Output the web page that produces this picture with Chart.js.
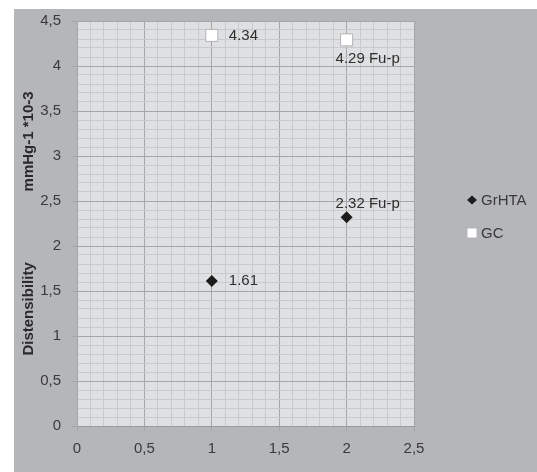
<!DOCTYPE html>
<html>
<head>
<meta charset="utf-8">
<script src="https://cdn.jsdelivr.net/npm/chart.js@4/dist/chart.umd.min.js"></script>
<style>
  html, body { margin: 0; padding: 0; background: #ffffff; }
  #frame { position: absolute; left: 14px; top: 9px; width: 523px; height: 463px; background: #b5b6b9; }
  canvas { display: block; }
</style>
</head>
<body>
<div id="frame"><canvas id="chart" width="523" height="463"></canvas></div>
<script>
// Distensibility (mmHg-1 *10-3) per group
const groupX = [1, 2];
const grHTA = [1.61, 2.32];
const gc = [4.34, 4.29];
const pointSuffix = ['', ' Fu-p'];
const seriesNames = ['GrHTA', 'GC'];
const xTickLabels = ['0', '0,5', '1', '1,5', '2', '2,5'];
const yTickLabels = ['0', '0,5', '1', '1,5', '2', '2,5', '3', '3,5', '4', '4,5'];

const FONT = "'Liberation Sans', Arial, sans-serif";
const TEXT = '#3a3a3a';
const MAJOR = '#a6a6a8';
const MINOR = '#c9cacc';

const isMajor = v => Math.abs(v / 0.5 - Math.round(v / 0.5)) < 1e-6;
const majorLabel = labels => v => isMajor(v) ? labels[Math.round(v / 0.5)] : '';

// plot area background
const plotBackground = {
  id: 'plotBackground',
  beforeDraw(chart) {
    const { ctx, chartArea: a } = chart;
    ctx.save();
    ctx.fillStyle = '#dfe0e2';
    ctx.fillRect(a.left, a.top, a.right - a.left, a.bottom - a.top);
    ctx.restore();
  }
};

// value labels next to each point
const placements = [['right', 'above'], ['right', 'below']];
const valueLabels = {
  id: 'valueLabels',
  afterDatasetsDraw(chart) {
    const { ctx } = chart;
    ctx.save();
    ctx.font = '15px ' + FONT;
    ctx.fillStyle = '#2e2e2e';
    ctx.textBaseline = 'middle';
    ctx.textAlign = 'left';
    chart.data.datasets.forEach((ds, di) => {
      chart.getDatasetMeta(di).data.forEach((pt, i) => {
        const text = ds.data[i].y.toFixed(2) + pointSuffix[i];
        const where = placements[di][i];
        if (where === 'right') ctx.fillText(text, pt.x + 17, pt.y);
        else if (where === 'above') ctx.fillText(text, pt.x - 11, pt.y - 13);
        else ctx.fillText(text, pt.x - 11, pt.y + 19);
      });
    });
    ctx.restore();
  }
};

// legend to the right of the plot
const sideLegend = {
  id: 'sideLegend',
  afterDraw(chart) {
    const { ctx, chartArea: a } = chart;
    const mx = a.right + 58, tx = a.right + 67;
    const rows = [a.top + 179, a.top + 212];
    ctx.save();
    // diamond
    ctx.fillStyle = '#1c1c1c';
    ctx.beginPath();
    ctx.moveTo(mx - 5, rows[0]);
    ctx.lineTo(mx, rows[0] - 4.5);
    ctx.lineTo(mx + 5, rows[0]);
    ctx.lineTo(mx, rows[0] + 4.5);
    ctx.closePath();
    ctx.fill();
    // square
    ctx.fillStyle = '#ffffff';
    ctx.fillRect(mx - 4.5, rows[1] - 4.5, 9, 9);
    ctx.font = '15px ' + FONT;
    ctx.fillStyle = TEXT;
    ctx.textBaseline = 'middle';
    ctx.fillText(seriesNames[0], tx, rows[0] + 1);
    ctx.fillText(seriesNames[1], tx, rows[1] + 1);
    ctx.restore();
  }
};

const toPoints = ys => groupX.map((x, i) => ({ x, y: ys[i] }));

new Chart(document.getElementById('chart'), {
  type: 'scatter',
  data: {
    datasets: [
      {
        label: seriesNames[0],
        data: toPoints(grHTA),
        pointStyle: 'rectRot',
        pointRadius: 6,
        pointHoverRadius: 6,
        backgroundColor: '#1c1c1c',
        borderColor: '#1c1c1c',
        borderWidth: 0
      },
      {
        label: seriesNames[1],
        data: toPoints(gc),
        pointStyle: 'rect',
        pointRadius: 8.5,
        pointHoverRadius: 8.5,
        backgroundColor: '#ffffff',
        borderColor: '#b4b4b6',
        borderWidth: 1
      }
    ]
  },
  options: {
    responsive: false,
    animation: false,
    events: [],
    layout: { padding: { top: 12, right: 123, bottom: 0, left: 0 } },
    plugins: { legend: { display: false }, tooltip: { enabled: false } },
    scales: {
      x: {
        type: 'linear',
        min: 0, max: 2.5,
        afterFit: s => { s.height = 46; s.paddingLeft = 0; s.paddingRight = 0; },
        ticks: {
          stepSize: 0.1, autoSkip: false, maxRotation: 0, padding: 9,
          color: TEXT, font: { family: FONT, size: 15 },
          callback: majorLabel(xTickLabels)
        },
        grid: {
          color: c => isMajor(c.tick.value) ? MAJOR : MINOR,
          tickColor: c => isMajor(c.tick.value) ? MAJOR : 'rgba(0,0,0,0)',
          tickLength: 5
        },
        border: { color: '#9b9b9d' }
      },
      y: {
        type: 'linear',
        min: 0, max: 4.5,
        afterFit: s => { s.width = 63; s.paddingTop = 0; s.paddingBottom = 0; },
        ticks: {
          stepSize: 0.1, autoSkip: false, padding: 11,
          color: TEXT, font: { family: FONT, size: 15 },
          callback: majorLabel(yTickLabels)
        },
        grid: {
          color: c => isMajor(c.tick.value) ? MAJOR : MINOR,
          tickColor: c => isMajor(c.tick.value) ? MAJOR : 'rgba(0,0,0,0)',
          tickLength: 5
        },
        border: { color: MAJOR },
        title: {
          display: true,
          text: 'Distensibility' + ' '.repeat(17) + 'mmHg-1 *10-3',
          color: '#2a2a2a',
          font: { family: FONT, size: 15, weight: 'bold' },
          padding: { top: 6, bottom: 0 }
        }
      }
    }
  },
  plugins: [plotBackground, valueLabels, sideLegend]
});
</script>
</body>
</html>
